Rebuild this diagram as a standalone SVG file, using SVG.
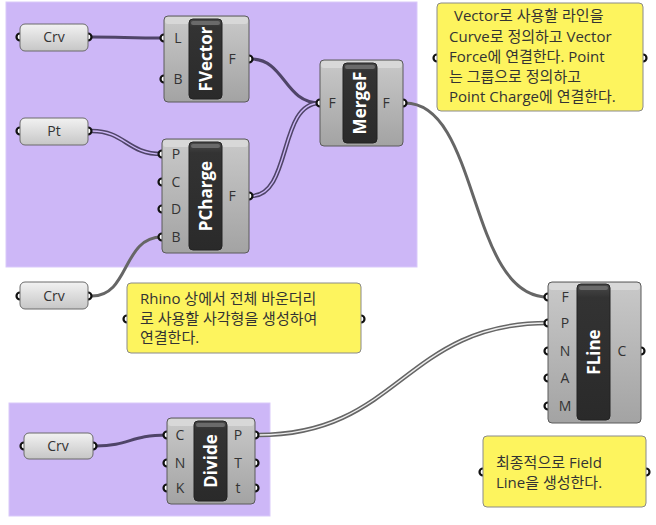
<svg xmlns="http://www.w3.org/2000/svg" width="656" height="525" viewBox="0 0 656 525">
<defs>
<linearGradient id="gBody" x1="0" y1="0" x2="0" y2="1">
<stop offset="0" stop-color="#c9c9c9"/>
<stop offset="1" stop-color="#a3a3a3"/>
</linearGradient>
<linearGradient id="gBar" x1="0" y1="0" x2="0" y2="1">
<stop offset="0" stop-color="#4a4a4a"/>
<stop offset="0.1" stop-color="#333"/>
<stop offset="1" stop-color="#2a2a2a"/>
</linearGradient>
<linearGradient id="gParam" x1="0" y1="0" x2="0" y2="1">
<stop offset="0" stop-color="#f2f2f2"/>
<stop offset="1" stop-color="#c6c6c6"/>
</linearGradient>
</defs>
<style>
.grp{fill:#cdb7f7;stroke:#d9c9fa;stroke-width:1}
.body{fill:url(#gBody);stroke:#5a5a5a;stroke-width:1}
.hl{fill:#dcdcdc;opacity:0.8}
.bar{fill:url(#gBar);stroke:#222;stroke-width:1}
.barcap{fill:#6a6a6a}
.param{fill:url(#gParam);stroke:#6a6a6a;stroke-width:1}
.port{fill:#fff;stroke:#111;stroke-width:2.2}
.note{fill:#fdf45e;stroke:#8a8a8a;stroke-width:1}
.w{fill:none;stroke-linecap:round}
.wp{stroke:#4f4468;stroke-width:3}
.wg{stroke:#666;stroke-width:3}
.dp{stroke:#4f4468;stroke-width:4.5}
.dpi{stroke:#cdb7f7;stroke-width:1.4}
.dg{stroke:#666;stroke-width:4.5}
.dgi{stroke:#eee;stroke-width:1.4}
.lbl{font-family:"Open Sans","Noto Sans",sans-serif;font-size:14px;fill:#333;text-anchor:middle}
.nm{font-family:"Open Sans","Noto Sans",sans-serif;font-size:17px;font-weight:bold;fill:#fff;text-anchor:middle}
.pt{font-family:"Open Sans","Noto Sans",sans-serif;font-size:14px;fill:#333;text-anchor:middle}
.nt{font-family:"Open Sans","Noto Sans CJK KR",sans-serif;font-size:15px;fill:#333}
</style>

<rect class="grp" x="6" y="2" width="411" height="265"/>
<rect class="grp" x="9" y="403" width="261" height="113"/>

<g id="connectors">
<path class="w wp" d="M92,37 C120,37 130,38 164,38"/>
<path class="w dp" d="M92,131 C125,131 127,154 162,154"/>
<path class="w dpi" d="M92,131 C125,131 127,154 162,154"/>
<path class="w wg" d="M92,296 C130,296 122,237 162,237"/>
<path class="w wp" d="M251,59 C285,59 284,103 320,103"/>
<path class="w dp" d="M251,196 C292,196 278,103 320,103"/>
<path class="w dpi" d="M251,196 C292,196 278,103 320,103"/>
<path class="w wg" d="M405,103 C480,103 468,297 548,297"/>
<path class="w wp" d="M96,446 C130,446 130,435 167,435"/>
<path class="w dg" d="M258,435 C400,435 404,323 548,323"/>
<path class="w dgi" d="M258,435 C400,435 404,323 548,323"/>
</g>

<g id="crv1">
<circle class="port" cx="20" cy="37" r="3.5"/><circle class="port" cx="88" cy="37" r="3.5"/>
<rect class="param" x="20" y="24" width="68" height="27" rx="5"/>
<text class="pt" x="54" y="42">Crv</text>
</g>
<g id="pt">
<circle class="port" cx="20" cy="131" r="3.5"/><circle class="port" cx="88" cy="131" r="3.5"/>
<rect class="param" x="20" y="118" width="68" height="27" rx="5"/>
<text class="pt" x="54" y="136">Pt</text>
</g>
<g id="crv2">
<circle class="port" cx="20" cy="296" r="3.5"/><circle class="port" cx="88" cy="296" r="3.5"/>
<rect class="param" x="20" y="282" width="68" height="27" rx="5"/>
<text class="pt" x="54" y="301">Crv</text>
</g>
<g id="crv3">
<circle class="port" cx="24" cy="446" r="3.5"/><circle class="port" cx="93" cy="446" r="3.5"/>
<rect class="param" x="24" y="433" width="69" height="26" rx="5"/>
<text class="pt" x="58" y="451">Crv</text>
</g>

<g id="fvector">
<circle class="port" cx="164" cy="38" r="3.5"/><circle class="port" cx="164" cy="79" r="3.5"/><circle class="port" cx="249" cy="59" r="3.5"/>
<rect class="body" x="164" y="16" width="85" height="86" rx="4"/>
<rect class="hl" x="165" y="17" width="83" height="7" rx="3"/>
<rect class="bar" x="189" y="19" width="33" height="80" rx="4"/>
<rect class="barcap" x="191" y="21" width="29" height="4" rx="2"/>
<text class="lbl" x="178" y="43">L</text><text class="lbl" x="178" y="84">B</text><text class="lbl" x="232" y="64">F</text>
<text class="nm" transform="translate(211.5,59) rotate(-90)">FVector</text>
</g>

<g id="pcharge">
<circle class="port" cx="162" cy="154" r="3.5"/><circle class="port" cx="162" cy="182" r="3.5"/><circle class="port" cx="162" cy="209" r="3.5"/><circle class="port" cx="162" cy="237" r="3.5"/><circle class="port" cx="249" cy="196" r="3.5"/>
<rect class="body" x="162" y="139" width="87" height="114" rx="4"/>
<rect class="hl" x="163" y="140" width="85" height="7" rx="3"/>
<rect class="bar" x="189" y="142" width="33" height="108" rx="4"/>
<rect class="barcap" x="191" y="144" width="29" height="4" rx="2"/>
<text class="lbl" x="176" y="159">P</text><text class="lbl" x="176" y="187">C</text><text class="lbl" x="176" y="214">D</text><text class="lbl" x="176" y="242">B</text><text class="lbl" x="232" y="201">F</text>
<text class="nm" transform="translate(211.5,196) rotate(-90)">PCharge</text>
</g>

<g id="mergef">
<circle class="port" cx="320" cy="103" r="3.5"/><circle class="port" cx="403" cy="103" r="3.5"/>
<rect class="body" x="320" y="60" width="83" height="86" rx="4"/>
<rect class="hl" x="321" y="61" width="81" height="7" rx="3"/>
<rect class="bar" x="343" y="63" width="34" height="80" rx="4"/>
<rect class="barcap" x="345" y="65" width="30" height="4" rx="2"/>
<text class="lbl" x="332" y="108">F</text><text class="lbl" x="386" y="108">F</text>
<text class="nm" transform="translate(366,103) rotate(-90)">MergeF</text>
</g>

<g id="fline">
<circle class="port" cx="548" cy="297" r="3.5"/><circle class="port" cx="548" cy="323" r="3.5"/><circle class="port" cx="548" cy="351" r="3.5"/><circle class="port" cx="548" cy="378" r="3.5"/><circle class="port" cx="548" cy="406" r="3.5"/><circle class="port" cx="641" cy="351" r="3.5"/>
<rect class="body" x="548" y="282" width="93" height="141" rx="4"/>
<rect class="hl" x="549" y="283" width="91" height="7" rx="3"/>
<rect class="bar" x="577" y="284" width="33" height="136" rx="4"/>
<rect class="barcap" x="579" y="286" width="29" height="4" rx="2"/>
<text class="lbl" x="565" y="302">F</text><text class="lbl" x="565" y="328">P</text><text class="lbl" x="565" y="356">N</text><text class="lbl" x="565" y="383">A</text><text class="lbl" x="565" y="411">M</text><text class="lbl" x="622" y="356">C</text>
<text class="nm" transform="translate(599.5,352) rotate(-90)">FLine</text>
</g>

<g id="divide">
<circle class="port" cx="167" cy="435" r="3.5"/><circle class="port" cx="167" cy="463" r="3.5"/><circle class="port" cx="167" cy="488" r="3.5"/><circle class="port" cx="255" cy="435" r="3.5"/><circle class="port" cx="255" cy="463" r="3.5"/><circle class="port" cx="255" cy="488" r="3.5"/>
<rect class="body" x="167" y="418" width="88" height="86" rx="4"/>
<rect class="hl" x="168" y="419" width="86" height="7" rx="3"/>
<rect class="bar" x="194" y="421" width="33" height="80" rx="4"/>
<rect class="barcap" x="196" y="423" width="29" height="4" rx="2"/>
<text class="lbl" x="180" y="440">C</text><text class="lbl" x="180" y="468">N</text><text class="lbl" x="180" y="493">K</text><text class="lbl" x="238" y="440">P</text><text class="lbl" x="238" y="468">T</text><text class="lbl" x="238" y="493">t</text>
<text class="nm" transform="translate(216.5,461) rotate(-90)">Divide</text>
</g>

<g id="note1">
<circle class="port" cx="437" cy="58" r="3.5"/><circle class="port" cx="643" cy="58" r="3.5"/>
<rect class="note" x="437" y="3" width="206" height="108" rx="4"/>
<text class="nt" x="454" y="21">Vector로 사용할 라인을</text>
<text class="nt" x="449" y="42">Curve로 정의하고 Vector</text>
<text class="nt" x="449" y="62">Force에 연결한다. Point</text>
<text class="nt" x="449" y="82">는 그룹으로 정의하고</text>
<text class="nt" x="449" y="102">Point Charge에 연결한다.</text>
</g>

<g id="note2">
<circle class="port" cx="127" cy="319" r="3.5"/><circle class="port" cx="361" cy="319" r="3.5"/>
<rect class="note" x="127" y="283" width="234" height="70" rx="4"/>
<text class="nt" x="140" y="304">Rhino 상에서 전체 바운더리</text>
<text class="nt" x="140" y="324">로 사용할 사각형을 생성하여</text>
<text class="nt" x="140" y="343">연결한다.</text>
</g>

<g id="note3">
<circle class="port" cx="483" cy="472" r="3.5"/><circle class="port" cx="646" cy="472" r="3.5"/>
<rect class="note" x="483" y="436" width="163" height="71" rx="4"/>
<text class="nt" x="496" y="468">최종적으로 Field</text>
<text class="nt" x="496" y="488">Line을 생성한다.</text>
</g>
</svg>
